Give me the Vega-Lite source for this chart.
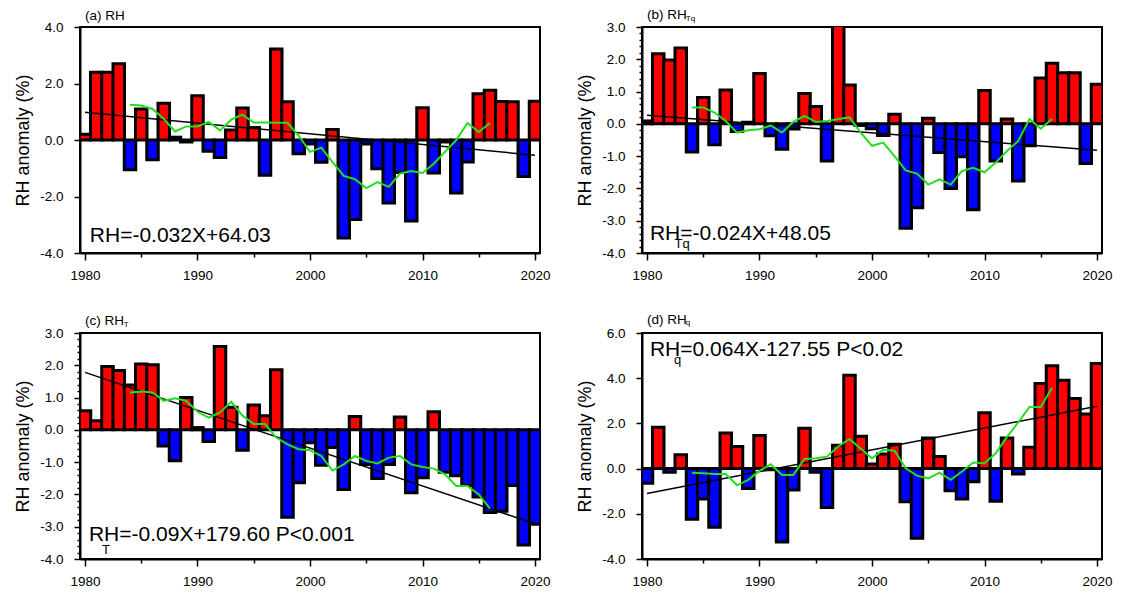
{
  "$schema": "https://vega.github.io/schema/vega-lite/v6.json",
  "background": "white",
  "padding": {"left": 13, "top": 6, "right": 5, "bottom": 5},
  "datasets": {
    "bars_a": [
      {"year":1980,"v":0.2},{"year":1981,"v":2.4},{"year":1982,"v":2.4},{"year":1983,"v":2.7},{"year":1984,"v":-1.05},
      {"year":1985,"v":1.1},{"year":1986,"v":-0.7},{"year":1987,"v":1.3},{"year":1988,"v":0.1},{"year":1989,"v":-0.07},
      {"year":1990,"v":1.57},{"year":1991,"v":-0.4},{"year":1992,"v":-0.62},{"year":1993,"v":0.35},{"year":1994,"v":1.13},
      {"year":1995,"v":0.44},{"year":1996,"v":-1.25},{"year":1997,"v":3.22},{"year":1998,"v":1.35},{"year":1999,"v":-0.49},
      {"year":2000,"v":-0.14},{"year":2001,"v":-0.79},{"year":2002,"v":0.37},{"year":2003,"v":-3.47},{"year":2004,"v":-2.81},
      {"year":2005,"v":-0.14},{"year":2006,"v":-1.02},{"year":2007,"v":-2.23},{"year":2008,"v":-1.15},{"year":2009,"v":-2.87},
      {"year":2010,"v":1.14},{"year":2011,"v":-1.17},{"year":2012,"v":-0.07},{"year":2013,"v":-1.88},{"year":2014,"v":-0.78},
      {"year":2015,"v":1.64},{"year":2016,"v":1.76},{"year":2017,"v":1.36},{"year":2018,"v":1.35},{"year":2019,"v":-1.29},
      {"year":2020,"v":1.37}
    ],
    "mean_a": [
      {"year":1984,"v":1.25},{"year":1985,"v":1.22},{"year":1986,"v":1.1},{"year":1987,"v":0.75},{"year":1988,"v":0.3},
      {"year":1989,"v":0.48},{"year":1990,"v":0.48},{"year":1991,"v":0.64},{"year":1992,"v":0.34},{"year":1993,"v":0.72},
      {"year":1994,"v":0.9},{"year":1995,"v":0.62},{"year":1996,"v":0.62},{"year":1997,"v":0.61},{"year":1998,"v":0.61},
      {"year":1999,"v":0.15},{"year":2000,"v":-0.42},{"year":2001,"v":-0.27},{"year":2002,"v":-0.78},{"year":2003,"v":-1.27},
      {"year":2004,"v":-1.39},{"year":2005,"v":-1.7},{"year":2006,"v":-1.49},{"year":2007,"v":-1.66},{"year":2008,"v":-1.19},
      {"year":2009,"v":-1.1},{"year":2010,"v":-1.17},{"year":2011,"v":-0.84},{"year":2012,"v":-0.42},{"year":2013,"v":0.0},
      {"year":2014,"v":0.6},{"year":2015,"v":0.28},{"year":2016,"v":0.6}
    ],
    "trend_a": [{"year":1980,"v":0.98},{"year":2020,"v":-0.54}],
    "bars_b": [
      {"year":1980,"v":0.09},{"year":1981,"v":2.17},{"year":1982,"v":1.98},{"year":1983,"v":2.35},{"year":1984,"v":-0.87},
      {"year":1985,"v":0.82},{"year":1986,"v":-0.65},{"year":1987,"v":1.05},{"year":1988,"v":-0.24},{"year":1989,"v":0.05},
      {"year":1990,"v":1.56},{"year":1991,"v":-0.37},{"year":1992,"v":-0.79},{"year":1993,"v":-0.16},{"year":1994,"v":0.94},
      {"year":1995,"v":0.54},{"year":1996,"v":-1.15},{"year":1997,"v":3.1},{"year":1998,"v":1.2},{"year":1999,"v":-0.05},
      {"year":2000,"v":-0.15},{"year":2001,"v":-0.36},{"year":2002,"v":0.3},{"year":2003,"v":-3.23},{"year":2004,"v":-2.6},
      {"year":2005,"v":0.17},{"year":2006,"v":-0.89},{"year":2007,"v":-2.0},{"year":2008,"v":-1.02},{"year":2009,"v":-2.66},
      {"year":2010,"v":1.03},{"year":2011,"v":-1.15},{"year":2012,"v":0.15},{"year":2013,"v":-1.77},{"year":2014,"v":-0.68},
      {"year":2015,"v":1.42},{"year":2016,"v":1.88},{"year":2017,"v":1.58},{"year":2018,"v":1.58},{"year":2019,"v":-1.23},
      {"year":2020,"v":1.23}
    ],
    "mean_b": [
      {"year":1984,"v":0.51},{"year":1985,"v":0.51},{"year":1986,"v":0.35},{"year":1987,"v":0.09},{"year":1988,"v":-0.27},
      {"year":1989,"v":-0.2},{"year":1990,"v":-0.17},{"year":1991,"v":-0.05},{"year":1992,"v":-0.27},{"year":1993,"v":0.06},
      {"year":1994,"v":0.25},{"year":1995,"v":0.06},{"year":1996,"v":0.09},{"year":1997,"v":0.15},{"year":1998,"v":0.2},
      {"year":1999,"v":-0.27},{"year":2000,"v":-0.68},{"year":2001,"v":-0.58},{"year":2002,"v":-1.0},{"year":2003,"v":-1.44},
      {"year":2004,"v":-1.54},{"year":2005,"v":-1.88},{"year":2006,"v":-1.72},{"year":2007,"v":-1.88},{"year":2008,"v":-1.46},
      {"year":2009,"v":-1.36},{"year":2010,"v":-1.5},{"year":2011,"v":-1.2},{"year":2012,"v":-0.84},{"year":2013,"v":-0.53},
      {"year":2014,"v":0.15},{"year":2015,"v":-0.15},{"year":2016,"v":0.15}
    ],
    "trend_b": [{"year":1980,"v":0.27},{"year":2020,"v":-0.82}],
    "bars_c": [
      {"year":1980,"v":0.59},{"year":1981,"v":0.28},{"year":1982,"v":1.96},{"year":1983,"v":1.84},{"year":1984,"v":1.39},
      {"year":1985,"v":2.04},{"year":1986,"v":2.02},{"year":1987,"v":-0.5},{"year":1988,"v":-0.96},{"year":1989,"v":1.0},
      {"year":1990,"v":0.07},{"year":1991,"v":-0.36},{"year":1992,"v":2.58},{"year":1993,"v":0.7},{"year":1994,"v":-0.63},
      {"year":1995,"v":0.77},{"year":1996,"v":0.44},{"year":1997,"v":1.86},{"year":1998,"v":-2.71},{"year":1999,"v":-1.64},
      {"year":2000,"v":-0.4},{"year":2001,"v":-1.1},{"year":2002,"v":-0.55},{"year":2003,"v":-1.85},{"year":2004,"v":0.41},
      {"year":2005,"v":-1.07},{"year":2006,"v":-1.51},{"year":2007,"v":-1.07},{"year":2008,"v":0.4},{"year":2009,"v":-1.95},
      {"year":2010,"v":-1.48},{"year":2011,"v":0.56},{"year":2012,"v":-1.31},{"year":2013,"v":-1.42},{"year":2014,"v":-1.72},
      {"year":2015,"v":-2.08},{"year":2016,"v":-2.56},{"year":2017,"v":-2.52},{"year":2018,"v":-1.72},{"year":2019,"v":-3.57},
      {"year":2020,"v":-2.92}
    ],
    "mean_c": [
      {"year":1984,"v":1.16},{"year":1985,"v":1.19},{"year":1986,"v":1.16},{"year":1987,"v":0.9},{"year":1988,"v":0.98},
      {"year":1989,"v":0.9},{"year":1990,"v":0.56},{"year":1991,"v":0.38},{"year":1992,"v":0.54},{"year":1993,"v":0.87},
      {"year":1994,"v":0.44},{"year":1995,"v":0.18},{"year":1996,"v":0.18},{"year":1997,"v":-0.24},{"year":1998,"v":-0.45},
      {"year":1999,"v":-0.6},{"year":2000,"v":-0.63},{"year":2001,"v":-0.81},{"year":2002,"v":-1.26},{"year":2003,"v":-1.07},
      {"year":2004,"v":-0.81},{"year":2005,"v":-0.96},{"year":2006,"v":-1.04},{"year":2007,"v":-0.86},{"year":2008,"v":-0.81},
      {"year":2009,"v":-1.07},{"year":2010,"v":-1.15},{"year":2011,"v":-1.2},{"year":2012,"v":-1.38},{"year":2013,"v":-1.74},
      {"year":2014,"v":-1.74},{"year":2015,"v":-2.0},{"year":2016,"v":-2.44}
    ],
    "trend_c": [{"year":1980,"v":1.78},{"year":2020,"v":-2.91}],
    "bars_d": [
      {"year":1980,"v":-0.65},{"year":1981,"v":1.83},{"year":1982,"v":-0.16},{"year":1983,"v":0.61},{"year":1984,"v":-2.24},
      {"year":1985,"v":-1.35},{"year":1986,"v":-2.59},{"year":1987,"v":1.57},{"year":1988,"v":0.98},{"year":1989,"v":-0.88},
      {"year":1990,"v":1.46},{"year":1991,"v":-0.05},{"year":1992,"v":-3.25},{"year":1993,"v":-0.95},{"year":1994,"v":1.78},
      {"year":1995,"v":-0.16},{"year":1996,"v":-1.72},{"year":1997,"v":1.03},{"year":1998,"v":4.13},{"year":1999,"v":1.43},
      {"year":2000,"v":0.2},{"year":2001,"v":0.65},{"year":2002,"v":1.08},{"year":2003,"v":-1.47},{"year":2004,"v":-3.08},
      {"year":2005,"v":1.35},{"year":2006,"v":0.53},{"year":2007,"v":-0.98},{"year":2008,"v":-1.35},{"year":2009,"v":-0.58},
      {"year":2010,"v":2.47},{"year":2011,"v":-1.44},{"year":2012,"v":1.35},{"year":2013,"v":-0.24},{"year":2014,"v":0.94},
      {"year":2015,"v":3.76},{"year":2016,"v":4.55},{"year":2017,"v":3.91},{"year":2018,"v":3.1},{"year":2019,"v":2.42},
      {"year":2020,"v":4.65}
    ],
    "mean_d": [
      {"year":1984,"v":-0.18},{"year":1985,"v":-0.21},{"year":1986,"v":-0.24},{"year":1987,"v":-0.24},{"year":1988,"v":-0.74},
      {"year":1989,"v":-0.5},{"year":1990,"v":-0.1},{"year":1991,"v":0.19},{"year":1992,"v":-0.28},{"year":1993,"v":-0.28},
      {"year":1994,"v":0.43},{"year":1995,"v":0.46},{"year":1996,"v":0.53},{"year":1997,"v":0.98},{"year":1998,"v":1.31},
      {"year":1999,"v":0.88},{"year":2000,"v":0.46},{"year":2001,"v":0.83},{"year":2002,"v":0.79},{"year":2003,"v":0.01},
      {"year":2004,"v":-0.31},{"year":2005,"v":-0.43},{"year":2006,"v":-0.18},{"year":2007,"v":-0.5},{"year":2008,"v":-0.13},
      {"year":2009,"v":0.27},{"year":2010,"v":0.24},{"year":2011,"v":0.68},{"year":2012,"v":1.4},{"year":2013,"v":2.05},
      {"year":2014,"v":2.73},{"year":2015,"v":2.73},{"year":2016,"v":3.58}
    ],
    "trend_d": [{"year":1980,"v":-1.1},{"year":2020,"v":2.76}]
  },
  "concat": [
    {
      "width": 460, "height": 226,
      "layer": [
        {
          "data": {"name": "bars_a"},
          "mark": {"type": "bar", "size": 11.5, "stroke": "black", "strokeWidth": 3, "clip": true},
          "encoding": {
            "x": {"field": "year", "type": "quantitative", "scale": {"domain": [1980, 2020], "nice": false, "zero": false},
                  "axis": {"title": null, "labelOverlap": false, "values": [1980,1982.5,1985,1987.5,1990,1992.5,1995,1997.5,2000,2002.5,2005,2007.5,2010,2012.5,2015,2017.5,2020],
                           "labelExpr": "datum.value % 10 === 0 ? '' + datum.value : ''",
                           "tickSize": {"condition": {"test": "datum.value % 10 === 0", "value": 7}, "value": 4}}},
            "y": {"field": "v", "type": "quantitative", "scale": {"domain": [-4, 4], "nice": false},
                  "axis": {"title": "RH anomaly (%)", "labelOverlap": false, "values": [-4,-3.5,-3,-2.5,-2,-1.5,-1,-0.5,0,0.5,1,1.5,2,2.5,3,3.5,4],
                           "labelExpr": "datum.value % 2 === 0 ? (datum.value < 0 ? '-' : '') + format(abs(datum.value), '.1f') : ''",
                           "tickSize": {"condition": {"test": "datum.value % 2 === 0", "value": 6}, "value": 3}}},
            "color": {"condition": {"test": "datum.v > 0", "value": "#ff0000"}, "value": "#0000ff"}
          }
        },
        {
          "data": {"name": "trend_a"},
          "mark": {"type": "line", "color": "black", "strokeWidth": 1.5, "clip": true},
          "encoding": {"x": {"field": "year", "type": "quantitative"}, "y": {"field": "v", "type": "quantitative"}}
        },
        {
          "data": {"name": "mean_a"},
          "mark": {"type": "line", "color": "#22dd22", "strokeWidth": 2, "clip": true},
          "encoding": {"x": {"field": "year", "type": "quantitative"}, "y": {"field": "v", "type": "quantitative"}}
        },
        {
          "data": {"values": [{}]},
          "mark": {"type": "text", "align": "left", "baseline": "alphabetic", "fontSize": 21, "font": "Liberation Sans", "color": "black"},
          "encoding": {"x": {"datum": 1980.43}, "y": {"datum": -3.61}, "text": {"value": "RH=-0.032X+64.03"}}
        },
        {
          "data": {"values": [{}]},
          "mark": {"type": "text", "align": "left", "baseline": "alphabetic", "fontSize": 13.5, "font": "Liberation Sans", "color": "black"},
          "encoding": {"x": {"datum": 1980.0}, "y": {"datum": 4.24}, "text": {"value": "(a) RH"}}
        }
      ]
    },
    {
      "width": 460, "height": 226,
      "resolve": {"axis": {"y": "independent"}},
      "layer": [
        {
          "data": {"name": "bars_b"},
          "mark": {"type": "bar", "size": 11.5, "stroke": "black", "strokeWidth": 3, "clip": true},
          "encoding": {
            "x": {"field": "year", "type": "quantitative", "scale": {"domain": [1980, 2020], "nice": false, "zero": false},
                  "axis": {"title": null, "labelOverlap": false, "values": [1980,1982.5,1985,1987.5,1990,1992.5,1995,1997.5,2000,2002.5,2005,2007.5,2010,2012.5,2015,2017.5,2020],
                           "labelExpr": "datum.value % 10 === 0 ? '' + datum.value : ''",
                           "tickSize": {"condition": {"test": "datum.value % 10 === 0", "value": 7}, "value": 4}}},
            "y": {"field": "v", "type": "quantitative", "scale": {"domain": [-4, 3], "nice": false},
                  "axis": {"title": "RH anomaly (%)", "orient": "left", "values": [-4,-3,-2,-1,0,1,2,3], "tickSize": 6,
                           "labelExpr": "(datum.value < 0 ? '-' : '') + format(abs(datum.value), '.1f')"}},
            "color": {"condition": {"test": "datum.v > 0", "value": "#ff0000"}, "value": "#0000ff"}
          }
        },
        {
          "data": {"name": "trend_b"},
          "mark": {"type": "line", "color": "black", "strokeWidth": 1.5, "clip": true},
          "encoding": {"x": {"field": "year", "type": "quantitative"},
                       "y": {"field": "v", "type": "quantitative",
                             "axis": {"title": null, "orient": "left", "labels": false, "domain": false, "tickSize": 3,
                                      "values": [-3.8,-3.6,-3.4,-3.2,-2.8,-2.6,-2.4,-2.2,-1.8,-1.6,-1.4,-1.2,-0.8,-0.6,-0.4,-0.2,0.2,0.4,0.6,0.8,1.2,1.4,1.6,1.8,2.2,2.4,2.6,2.8]}}}
        },
        {
          "data": {"name": "mean_b"},
          "mark": {"type": "line", "color": "#22dd22", "strokeWidth": 2, "clip": true},
          "encoding": {"x": {"field": "year", "type": "quantitative"}, "y": {"field": "v", "type": "quantitative", "axis": null}}
        },
        {
          "data": {"values": [{}]},
          "mark": {"type": "text", "align": "left", "baseline": "alphabetic", "fontSize": 21, "font": "Liberation Sans", "color": "black"},
          "encoding": {"x": {"datum": 1980.26}, "y": {"datum": -3.59, "axis": null}, "text": {"value": "RH=-0.024X+48.05"}}
        },
        {
          "data": {"values": [{}]},
          "mark": {"type": "text", "align": "left", "baseline": "alphabetic", "fontSize": 13, "font": "Liberation Sans", "color": "black"},
          "encoding": {"x": {"datum": 1982.45}, "y": {"datum": -3.85, "axis": null}, "text": {"value": "Tq"}}
        },
        {
          "data": {"values": [{}]},
          "mark": {"type": "text", "align": "left", "baseline": "alphabetic", "fontSize": 13.5, "font": "Liberation Sans", "color": "black"},
          "encoding": {"x": {"datum": 1980.0}, "y": {"datum": 3.26, "axis": null}, "text": {"value": "(b) RH"}}
        },
        {
          "data": {"values": [{}]},
          "mark": {"type": "text", "align": "left", "baseline": "alphabetic", "fontSize": 8, "font": "Liberation Sans", "color": "black"},
          "encoding": {"x": {"datum": 1983.45}, "y": {"datum": 3.2, "axis": null}, "text": {"value": "Tq"}}
        }
      ]
    },
    {
      "width": 460, "height": 226,
      "resolve": {"axis": {"y": "independent"}},
      "layer": [
        {
          "data": {"name": "bars_c"},
          "mark": {"type": "bar", "size": 11.5, "stroke": "black", "strokeWidth": 3, "clip": true},
          "encoding": {
            "x": {"field": "year", "type": "quantitative", "scale": {"domain": [1980, 2020], "nice": false, "zero": false},
                  "axis": {"title": null, "labelOverlap": false, "values": [1980,1982.5,1985,1987.5,1990,1992.5,1995,1997.5,2000,2002.5,2005,2007.5,2010,2012.5,2015,2017.5,2020],
                           "labelExpr": "datum.value % 10 === 0 ? '' + datum.value : ''",
                           "tickSize": {"condition": {"test": "datum.value % 10 === 0", "value": 7}, "value": 4}}},
            "y": {"field": "v", "type": "quantitative", "scale": {"domain": [-4, 3], "nice": false},
                  "axis": {"title": "RH anomaly (%)", "orient": "left", "values": [-4,-3,-2,-1,0,1,2,3], "tickSize": 6,
                           "labelExpr": "(datum.value < 0 ? '-' : '') + format(abs(datum.value), '.1f')"}},
            "color": {"condition": {"test": "datum.v > 0", "value": "#ff0000"}, "value": "#0000ff"}
          }
        },
        {
          "data": {"name": "trend_c"},
          "mark": {"type": "line", "color": "black", "strokeWidth": 1.5, "clip": true},
          "encoding": {"x": {"field": "year", "type": "quantitative"},
                       "y": {"field": "v", "type": "quantitative",
                             "axis": {"title": null, "orient": "left", "labels": false, "domain": false, "tickSize": 3,
                                      "values": [-3.8,-3.6,-3.4,-3.2,-2.8,-2.6,-2.4,-2.2,-1.8,-1.6,-1.4,-1.2,-0.8,-0.6,-0.4,-0.2,0.2,0.4,0.6,0.8,1.2,1.4,1.6,1.8,2.2,2.4,2.6,2.8]}}}
        },
        {
          "data": {"name": "mean_c"},
          "mark": {"type": "line", "color": "#22dd22", "strokeWidth": 2, "clip": true},
          "encoding": {"x": {"field": "year", "type": "quantitative"}, "y": {"field": "v", "type": "quantitative", "axis": null}}
        },
        {
          "data": {"values": [{}]},
          "mark": {"type": "text", "align": "left", "baseline": "alphabetic", "fontSize": 21, "font": "Liberation Sans", "color": "black"},
          "encoding": {"x": {"datum": 1980.35}, "y": {"datum": -3.43, "axis": null}, "text": {"value": "RH=-0.09X+179.60 P<0.001"}}
        },
        {
          "data": {"values": [{}]},
          "mark": {"type": "text", "align": "left", "baseline": "alphabetic", "fontSize": 13, "font": "Liberation Sans", "color": "black"},
          "encoding": {"x": {"datum": 1981.5}, "y": {"datum": -3.86, "axis": null}, "text": {"value": "T"}}
        },
        {
          "data": {"values": [{}]},
          "mark": {"type": "text", "align": "left", "baseline": "alphabetic", "fontSize": 13.5, "font": "Liberation Sans", "color": "black"},
          "encoding": {"x": {"datum": 1980.0}, "y": {"datum": 3.24, "axis": null}, "text": {"value": "(c) RH"}}
        },
        {
          "data": {"values": [{}]},
          "mark": {"type": "text", "align": "left", "baseline": "alphabetic", "fontSize": 8, "font": "Liberation Sans", "color": "black"},
          "encoding": {"x": {"datum": 1983.45}, "y": {"datum": 3.19, "axis": null}, "text": {"value": "T"}}
        }
      ]
    },
    {
      "width": 460, "height": 226,
      "layer": [
        {
          "data": {"name": "bars_d"},
          "mark": {"type": "bar", "size": 11.5, "stroke": "black", "strokeWidth": 3, "clip": true},
          "encoding": {
            "x": {"field": "year", "type": "quantitative", "scale": {"domain": [1980, 2020], "nice": false, "zero": false},
                  "axis": {"title": null, "labelOverlap": false, "values": [1980,1982.5,1985,1987.5,1990,1992.5,1995,1997.5,2000,2002.5,2005,2007.5,2010,2012.5,2015,2017.5,2020],
                           "labelExpr": "datum.value % 10 === 0 ? '' + datum.value : ''",
                           "tickSize": {"condition": {"test": "datum.value % 10 === 0", "value": 7}, "value": 4}}},
            "y": {"field": "v", "type": "quantitative", "scale": {"domain": [-4, 6], "nice": false},
                  "axis": {"title": "RH anomaly (%)", "labelOverlap": false, "values": [-4,-3.5,-3,-2.5,-2,-1.5,-1,-0.5,0,0.5,1,1.5,2,2.5,3,3.5,4,4.5,5,5.5,6],
                           "labelExpr": "datum.value % 2 === 0 ? (datum.value < 0 ? '-' : '') + format(abs(datum.value), '.1f') : ''",
                           "tickSize": {"condition": {"test": "datum.value % 2 === 0", "value": 6}, "value": 3}}},
            "color": {"condition": {"test": "datum.v > 0", "value": "#ff0000"}, "value": "#0000ff"}
          }
        },
        {
          "data": {"name": "trend_d"},
          "mark": {"type": "line", "color": "black", "strokeWidth": 1.5, "clip": true},
          "encoding": {"x": {"field": "year", "type": "quantitative"}, "y": {"field": "v", "type": "quantitative"}}
        },
        {
          "data": {"name": "mean_d"},
          "mark": {"type": "line", "color": "#22dd22", "strokeWidth": 2, "clip": true},
          "encoding": {"x": {"field": "year", "type": "quantitative"}, "y": {"field": "v", "type": "quantitative"}}
        },
        {
          "data": {"values": [{}]},
          "mark": {"type": "text", "align": "left", "baseline": "alphabetic", "fontSize": 21, "font": "Liberation Sans", "color": "black"},
          "encoding": {"x": {"datum": 1980.26}, "y": {"datum": 4.99}, "text": {"value": "RH=0.064X-127.55 P<0.02"}}
        },
        {
          "data": {"values": [{}]},
          "mark": {"type": "text", "align": "left", "baseline": "alphabetic", "fontSize": 13, "font": "Liberation Sans", "color": "black"},
          "encoding": {"x": {"datum": 1982.4}, "y": {"datum": 4.62}, "text": {"value": "q"}}
        },
        {
          "data": {"values": [{}]},
          "mark": {"type": "text", "align": "left", "baseline": "alphabetic", "fontSize": 13.5, "font": "Liberation Sans", "color": "black"},
          "encoding": {"x": {"datum": 1980.0}, "y": {"datum": 6.41}, "text": {"value": "(d) RH"}}
        },
        {
          "data": {"values": [{}]},
          "mark": {"type": "text", "align": "left", "baseline": "alphabetic", "fontSize": 8, "font": "Liberation Sans", "color": "black"},
          "encoding": {"x": {"datum": 1983.45}, "y": {"datum": 6.36}, "text": {"value": "q"}}
        }
      ]
    }
  ],
  "columns": 2,
  "spacing": {"row": 80, "column": 102},
  "bounds": "flush",
  "config": {
    "view": {"stroke": "black", "strokeWidth": 2},
    "axis": {
      "grid": false, "domainColor": "black", "domainWidth": 2, "tickColor": "black", "tickWidth": 1.5,
      "labelFont": "Liberation Sans", "labelFontSize": 13.5, "labelColor": "black", "labelOverlap": false, "labelFlush": false,
      "titleFont": "Liberation Sans", "titleFontSize": 18, "titleFontWeight": "normal", "titleColor": "black"
    },
    "axisX": {"labelPadding": 8},
    "axisY": {"labelPadding": 11, "titlePadding": 7}
  }
}
